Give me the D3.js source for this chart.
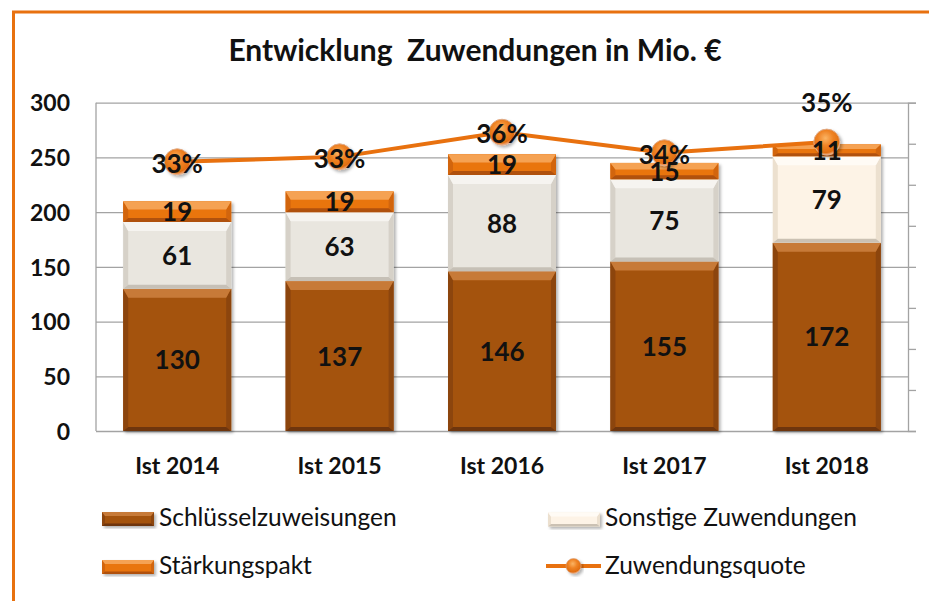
<!DOCTYPE html>
<html>
<head>
<meta charset="utf-8">
<script src="https://cdn.jsdelivr.net/npm/d3@7"></script>
<style>
  html, body { margin: 0; padding: 0; background: #fff; overflow: hidden; }
  text { font-family: Lato, "Open Sans", sans-serif; }
</style>
</head>
<body>
<svg id="chart" width="929" height="601"></svg>
<script>
// ---- data ----
const years = ["Ist 2014", "Ist 2015", "Ist 2016", "Ist 2017", "Ist 2018"];
const schluessel = [130, 137, 146, 155, 172];   // Schlüsselzuweisungen, Mio. €
const sonstige = [61, 63, 88, 75, 79];          // Sonstige Zuwendungen, Mio. €
const staerkung = [19, 19, 19, 15, 11];         // Stärkungspakt, Mio. €
const quote = [32.8, 33.4, 36.4, 33.9, 35.2];   // Zuwendungsquote, %
const yTicks = [0, 50, 100, 150, 200, 250, 300];
const quoteTicks = [0, 5, 10, 15, 20, 25, 30, 35, 40];
const seriesNames = ["Schlüsselzuweisungen", "Sonstige Zuwendungen", "Stärkungspakt", "Zuwendungsquote"];
const titleText = "Entwicklung  Zuwendungen in Mio. €";

// ---- layout ----
const svg = d3.select("#chart");
const plot = { left: 96, right: 908, top: 102.7, bottom: 431 };

const x = d3.scaleBand().domain(years).range([plot.left, plot.right])
  .paddingInner(0.335).paddingOuter(0.1675);
const y = d3.scaleLinear().domain([0, 300]).range([plot.bottom, plot.top]);
const y2 = d3.scaleLinear().domain([0, 40]).range([plot.bottom, plot.top]);

// palettes for the bevelled bar segments
const palBrown = { body: "#a4520f", top: "#c77a38", side: "#8c450c", bottom: "#6e3508" };
const palGrey = { body: "#e9e6df", top: "#f6f4f0", side: "#d6d1c8", bottom: "#c6c0b6" };
const palCream = { body: "#fdf3e6", top: "#fffbf5", side: "#ece0cf", bottom: "#cbc1b3" };
const palOrange = { body: "#e9750f", top: "#f5a253", side: "#d2650b", bottom: "#b05108" };

const defs = svg.append("defs");
const shadow = defs.append("filter").attr("id", "shadow")
  .attr("x", "-20%").attr("y", "-20%").attr("width", "140%").attr("height", "140%");
shadow.append("feDropShadow").attr("dx", 2).attr("dy", 2).attr("stdDeviation", 1.6)
  .attr("flood-color", "#000").attr("flood-opacity", 0.3);

const ball = defs.append("radialGradient").attr("id", "ball")
  .attr("cx", "45%").attr("cy", "35%").attr("r", "65%");
ball.append("stop").attr("offset", "0%").attr("stop-color", "#fbb464");
ball.append("stop").attr("offset", "45%").attr("stop-color", "#ef8324");
ball.append("stop").attr("offset", "85%").attr("stop-color", "#e06d10");
ball.append("stop").attr("offset", "100%").attr("stop-color", "#f2b28a");

// white background
svg.append("rect").attr("width", 929).attr("height", 601).attr("fill", "#fff");

// orange frame around the chart area
svg.append("rect").attr("x", 13.5).attr("y", 12).attr("width", 1000).attr("height", 700)
  .attr("fill", "none").attr("stroke", "#e8710f").attr("stroke-width", 3);

// title
svg.append("text").attr("x", 475).attr("y", 61).attr("text-anchor", "middle")
  .style("white-space", "pre").attr("font-size", 30).attr("font-weight", 700)
  .attr("fill", "#111").text(titleText);

// gridlines
const grid = svg.append("g").attr("transform", `translate(${plot.left},0)`)
  .call(d3.axisLeft(y).tickValues(yTicks).tickSize(-(plot.right - plot.left)).tickFormat(""));
grid.select(".domain").remove();
grid.selectAll(".tick line").attr("stroke", "#a3a3a3").attr("stroke-width", 1.3);

// left axis line + labels
svg.append("line").attr("x1", plot.left).attr("x2", plot.left)
  .attr("y1", plot.top).attr("y2", plot.bottom).attr("stroke", "#a3a3a3").attr("stroke-width", 1.3);
const yAxis = svg.append("g").attr("transform", `translate(${plot.left},0)`)
  .call(d3.axisLeft(y).tickValues(yTicks).tickSize(0).tickPadding(26));
yAxis.select(".domain").remove();
yAxis.selectAll("text").attr("font-size", 23).attr("font-weight", 700).attr("fill", "#111")
  .attr("dy", "0.36em").style("font-family", "Lato, sans-serif");

// secondary axis (unlabelled) on the right
const y2Axis = svg.append("g").attr("transform", `translate(${plot.right},0)`)
  .call(d3.axisRight(y2).tickValues(quoteTicks).tickSize(8).tickSizeOuter(8).tickFormat(""));
y2Axis.selectAll("path, line").attr("stroke", "#a3a3a3").attr("stroke-width", 1.3);

// category labels
const xAxis = svg.append("g").attr("transform", `translate(0,${plot.bottom})`)
  .call(d3.axisBottom(x).tickSize(0).tickPadding(0));
xAxis.select(".domain").remove();
xAxis.selectAll("text").attr("y", 43).attr("dy", 0).attr("font-size", 23)
  .attr("font-weight", 700).attr("fill", "#111").style("font-family", "Lato, sans-serif");

// bevelled rectangle
function bevelRect(g, x0, y0, w, h, pal, t, s, b) {
  t = Math.min(t, h * 0.4); b = Math.min(b, h * 0.25);
  const poly = pts => pts.map(p => p.join(",")).join(" ");
  g.append("rect").attr("x", x0).attr("y", y0).attr("width", w).attr("height", h).attr("fill", pal.body);
  g.append("polygon").attr("fill", pal.side)
    .attr("points", poly([[x0, y0], [x0 + s, y0 + t], [x0 + s, y0 + h - b], [x0, y0 + h]]));
  g.append("polygon").attr("fill", pal.side)
    .attr("points", poly([[x0 + w, y0], [x0 + w - s, y0 + t], [x0 + w - s, y0 + h - b], [x0 + w, y0 + h]]));
  g.append("polygon").attr("fill", pal.bottom)
    .attr("points", poly([[x0, y0 + h], [x0 + s, y0 + h - b], [x0 + w - s, y0 + h - b], [x0 + w, y0 + h]]));
  g.append("polygon").attr("fill", pal.top)
    .attr("points", poly([[x0, y0], [x0 + w, y0], [x0 + w - s, y0 + t], [x0 + s, y0 + t]]));
}

// stacked bars
const stackRows = years.map((yr, i) => ({ year: yr, s: schluessel[i], o: sonstige[i], k: staerkung[i] }));
const stacked = d3.stack().keys(["s", "o", "k"])(stackRows);
const last = years.length - 1;
const barsG = svg.append("g");
const labelsG = svg.append("g");

years.forEach((yr, i) => {
  const g = barsG.append("g").attr("filter", "url(#shadow)");
  stacked.forEach((layer, li) => {
    const [v0, v1] = layer[i];
    const pal = li === 0 ? palBrown : li === 1 ? (i === last ? palCream : palGrey) : palOrange;
    const top = y(v1), h = y(v0) - y(v1);
    bevelRect(g, x(yr), top, x.bandwidth(), h, pal, 9, 5, 4);
    labelsG.append("text")
      .attr("x", x(yr) + x.bandwidth() / 2)
      .attr("y", (y(v0) + y(v1)) / 2 + 9.5)
      .attr("text-anchor", "middle").attr("font-size", 26).attr("font-weight", 700)
      .attr("fill", "#111").text(v1 - v0);
  });
});

// quote line
const cx = i => x(years[i]) + x.bandwidth() / 2;
const line = d3.line().x((d, i) => cx(i)).y(d => y2(d));
svg.append("path").datum(quote).attr("d", line).attr("fill", "none")
  .attr("stroke", "#e8710f").attr("stroke-width", 4).attr("stroke-linejoin", "round");

svg.append("g").selectAll("circle").data(quote).join("circle")
  .attr("cx", (d, i) => cx(i)).attr("cy", d => y2(d)).attr("r", 13)
  .attr("fill", "url(#ball)").attr("stroke", "#e0ab88").attr("stroke-width", 1)
  .attr("filter", "url(#shadow)");

// bar value labels drawn above the markers
svg.node().appendChild(labelsG.node());

// quote labels: centred on the marker, lifted above it when it sits on the bar top
svg.append("g").selectAll("text").data(quote).join("text")
  .attr("x", (d, i) => cx(i))
  .attr("y", (d, i) => {
    const barTop = y(schluessel[i] + sonstige[i] + staerkung[i]);
    const lift = Math.abs(y2(d) - barTop) < 8 ? -41 : 0;
    return y2(d) + 11 + lift;
  })
  .attr("text-anchor", "middle").attr("font-size", 26).attr("font-weight", 700)
  .attr("fill", "#111").text(d => Math.round(d) + "%");

// legend
const legend = svg.append("g");
const legendItems = [
  { name: seriesNames[0], kind: "bar", pal: palBrown, sx: 102, sy: 512, tx: 159, ty: 526 },
  { name: seriesNames[1], kind: "bar", pal: palCream, sx: 548, sy: 512.5, tx: 605, ty: 526 },
  { name: seriesNames[2], kind: "bar", pal: palOrange, sx: 102, sy: 560, tx: 159, ty: 573.5 },
  { name: seriesNames[3], kind: "line", sx: 546, sy: 566, tx: 605, ty: 573.5 }
];
legendItems.forEach(it => {
  if (it.kind === "bar") {
    const g = legend.append("g").attr("filter", "url(#shadow)");
    bevelRect(g, it.sx, it.sy, 52, 14, it.pal, 4, 3, 2.5);
  } else {
    legend.append("line").attr("x1", it.sx).attr("x2", it.sx + 55)
      .attr("y1", it.sy).attr("y2", it.sy).attr("stroke", "#e8710f").attr("stroke-width", 4);
    legend.append("circle").attr("cx", it.sx + 27.5).attr("cy", it.sy).attr("r", 7.5)
      .attr("fill", "url(#ball)").attr("stroke", "#d9a07a").attr("stroke-width", 0.6)
      .attr("filter", "url(#shadow)");
  }
  legend.append("text").attr("x", it.tx).attr("y", it.ty).attr("font-size", 24.5)
    .attr("fill", "#111").text(it.name);
});
</script>
</body>
</html>
